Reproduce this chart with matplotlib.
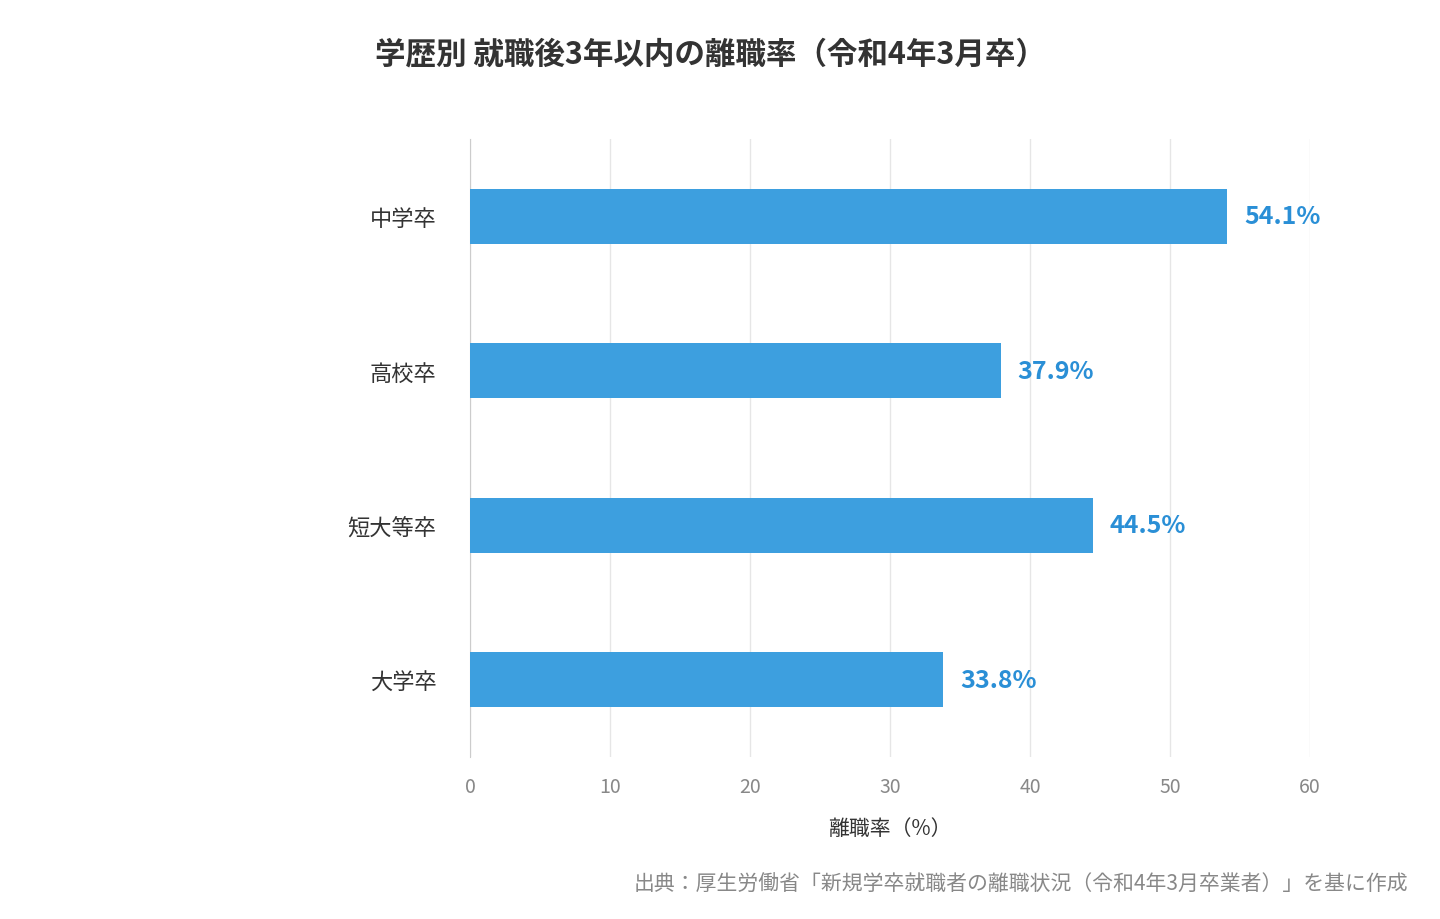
import matplotlib
matplotlib.use("Agg")
import matplotlib.pyplot as plt

plt.rcParams['font.family'] = ['Noto Sans CJK JP', 'DejaVu Sans']

categories = ["中学卒", "高校卒", "短大等卒", "大学卒"]
values = [54.1, 37.9, 44.5, 33.8]
xticks = [0, 10, 20, 30, 40, 50, 60]

fig = plt.figure(figsize=(14.4, 9.2), dpi=100)
ax = fig.add_axes([470/1440, 1-758/920, 840/1440, 618/920])
y = list(range(len(categories)))
ax.barh(y, values, height=0.355, color="#3d9fdf", zorder=3)
for yi, v in zip(y, values):
    ax.text(v + 1.2, yi, f"{v}%", va="center", ha="left", fontsize=18,
            fontweight="bold", color="#2a8fd6")
ax.set_ylim(3.5, -0.5)
ax.set_xlim(0, 60)
ax.set_xticks(xticks)
ax.set_yticks(y)
ax.set_yticklabels(categories, fontsize=16, color="#333333")
ax.tick_params(axis='x', labelsize=14, colors="#888888", length=0, pad=14)
ax.tick_params(axis='y', length=0, pad=24)
ax.grid(axis='x', color="#e6e6e6", linewidth=1, zorder=0)
for s in ["top", "right", "bottom"]:
    ax.spines[s].set_visible(False)
ax.spines["left"].set_color("#cccccc")
ax.set_xlabel("離職率（%）", fontsize=15, color="#333333", labelpad=14)

fig.text(710/1440, 1-55/920, "学歴別 就職後3年以内の離職率（令和4年3月卒）",
         ha="center", va="center", fontsize=22, fontweight="bold", color="#333333")
fig.text(1408/1440, 1-885/920,
         "出典：厚生労働省「新規学卒就職者の離職状況（令和4年3月卒業者）」を基に作成",
         ha="right", va="center", fontsize=15, color="#888888")
fig.savefig("out.png", dpi=100)
